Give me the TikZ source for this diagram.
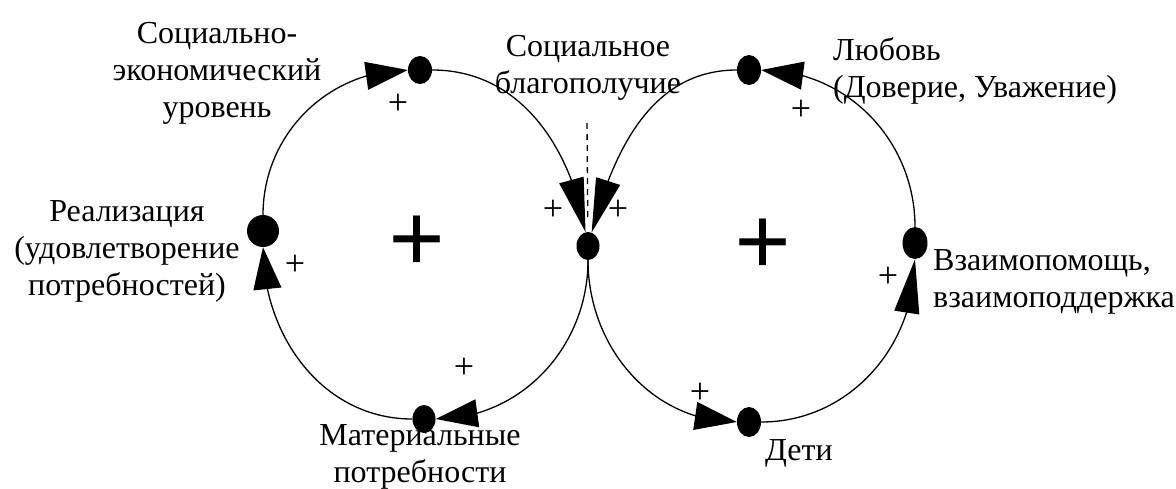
\documentclass[tikz,border=0pt]{standalone}
\usepackage{fontspec}
\setmainfont{Liberation Serif}
\usetikzlibrary{arrows.meta,shapes.geometric,bending}
\begin{document}
\begin{tikzpicture}[x=1pt,y=1pt,
  dot/.style={ellipse,fill=black,draw=none,inner sep=0pt,minimum width=24pt,minimum height=28pt},
  lbl/.style={font=\fontsize{32}{37}\selectfont,inner sep=0pt,align=center},
  lbll/.style={font=\fontsize{32}{37}\selectfont,inner sep=0pt,align=left},
  sign/.style={font=\fontsize{36}{36}\selectfont,inner sep=0pt},
  bigsign/.style={font=\fontsize{100}{100}\selectfont\bfseries,inner sep=0pt},
  link/.style={line width=1.3pt,-{Triangle[length=42pt,width=28pt,flex]}},
  longlink/.style={line width=1.3pt,-{Triangle[length=54pt,width=25pt,flex]}},
  dashline/.style={line width=1.3pt,dash pattern=on 6pt off 5pt,shorten >=14pt}
]
\useasboundingbox (0,0) rectangle (1176,-488);
% dots
\node[dot,minimum width=32pt,minimum height=32pt] (L) at (263,-231) {};
\node[dot] (T1) at (420,-70) {};
\node[dot,minimum width=23pt] (C) at (588,-246) {};
\node[dot,minimum width=23pt] (B1) at (424,-419) {};
\node[dot,minimum height=30pt] (T2) at (749,-70) {};
\node[dot,minimum width=25pt,minimum height=32pt] (R) at (915,-243) {};
\node[dot,minimum height=30pt] (B2) at (749,-422) {};
% left loop
\draw[link] (L) to[out=90,in=180] (T1);
\draw[longlink] (T1) to[out=0,in=100] (C);
\draw[link] (C) to[out=-90,in=0] (B1);
\draw[link] (B1) to[out=180,in=-90] (L);
% right loop
\draw[link] (R) to[out=90,in=0] (T2);
\draw[longlink] (T2) to[out=180,in=75] (C);
\draw[link] (C) to[out=-90,in=180] (B2);
\draw[longlink] (B2) to[out=0,in=-90] (R);
% dashed
\coordinate (dtop) at (587,-123);
\draw[dashline] (dtop) -- (C);
% labels
\node[lbl,anchor=north] (tSE) at (217,-22.5) {Социально-\\экономический\\уровень};
\node[lbl,anchor=north] (tSB) at (588,-35.5) {Социальное\\благополучие};
\node[lbll,anchor=north west] (tLove) at (833,-37) {Любовь\\(Доверие, Уважение)};
\node[lbl,anchor=north] (tReal) at (127,-200.5) {Реализация\\(удовлетворение\\потребностей)};
\node[lbll,anchor=north west] (tHelp) at (933,-249) {Взаимопомощь,\\взаимоподдержка};
\node[lbl,anchor=north] (tMat) at (420,-424) {Материальные\\потребности};
\node[lbll,anchor=north west] (tKids) at (765,-439) {Дети};
% signs
\node[sign] (p1) at (398,-104) {+};
\node[sign] (p2) at (553,-210) {+};
\node[sign] (p3) at (618,-210) {+};
\node[sign] (p4) at (295,-265) {+};
\node[sign] (p5) at (464,-368) {+};
\node[sign] (p6) at (801,-110) {+};
\node[sign] (p7) at (888,-277) {+};
\node[sign] (p8) at (700,-393) {+};
\node[bigsign] (P1) at (417,-244) {+};
\node[bigsign] (P2) at (763,-247) {+};
\end{tikzpicture}
\end{document}
